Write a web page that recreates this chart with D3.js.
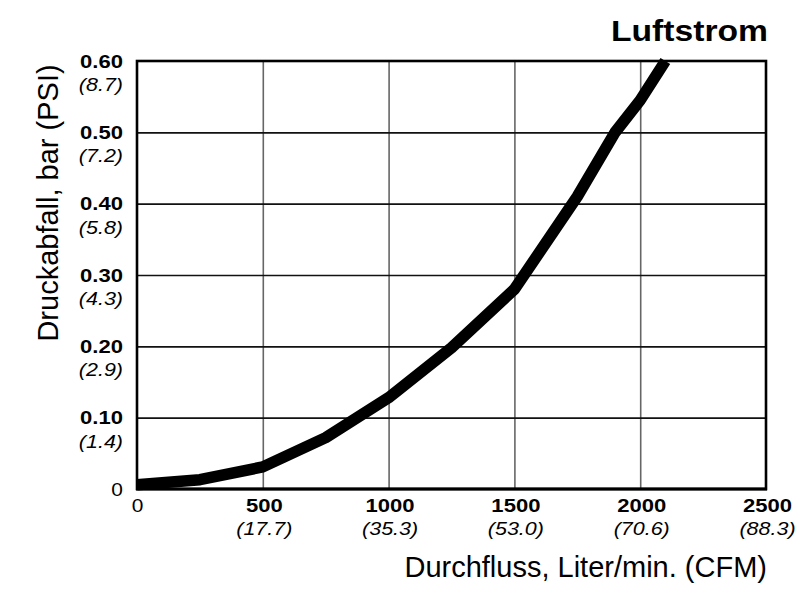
<!DOCTYPE html>
<html><head><meta charset="utf-8">
<script src="https://cdn.jsdelivr.net/npm/d3@7"></script>
<style>body{margin:0;background:#fff}svg{display:block}</style>
</head><body>
<svg id="c" width="800" height="597"></svg>
<script>
// ---- data ----
const flowLpm = [0, 250, 500, 750, 1000, 1250, 1500, 1750, 1900, 2000, 2100];
const dropBar = [0.006, 0.013, 0.031, 0.072, 0.128, 0.198, 0.28, 0.41, 0.5, 0.545, 0.6];
const xTicks = [0, 500, 1000, 1500, 2000, 2500];
const xTickLabels = ["0", "500", "1000", "1500", "2000", "2500"];
const xTickCfm = ["", "(17.7)", "(35.3)", "(53.0)", "(70.6)", "(88.3)"];
const yTicks = [0, 0.1, 0.2, 0.3, 0.4, 0.5, 0.6];
const yTickLabels = ["0", "0.10", "0.20", "0.30", "0.40", "0.50", "0.60"];
const yTickPsi = ["", "(1.4)", "(2.9)", "(4.3)", "(5.8)", "(7.2)", "(8.7)"];
const title = "Luftstrom";
const xTitle = "Durchfluss, Liter/min. (CFM)";
const yTitle = "Druckabfall, bar (PSI)";

// ---- layout ----
const L = 137, R = 766, T = 61, B = 489;
const FONT = "'Liberation Sans', Arial, sans-serif";
const SX = 1.16;
const svg = d3.select("#c");
const x = d3.scaleLinear().domain([0, 2500]).range([L, R]);
const y = d3.scaleLinear().domain([0, 0.6]).range([B, T]);

// stretched text helper: anchor 'end' | 'middle' | 'start'
function txt(g, s, px, py, opts) {
  const t = g.append("text").attr("x", 0).attr("y", py)
    .attr("font-family", FONT).attr("font-size", opts.size)
    .attr("font-weight", opts.weight || "normal")
    .attr("font-style", opts.style || "normal")
    .attr("fill", "#000").text(s);
  const w = t.node().getComputedTextLength();
  const sx = opts.sx || 1;
  const tw = w * sx;
  let x0 = px;
  if (opts.anchor === "end") x0 = px - tw;
  else if (opts.anchor === "middle") x0 = px - tw / 2;
  t.attr("x", x0);
  if (sx !== 1) t.attr("textLength", tw).attr("lengthAdjust", "spacingAndGlyphs");
  return t;
}

// gridlines via axes
svg.append("g").attr("transform", `translate(0,${B})`)
  .call(d3.axisBottom(x).tickValues(xTicks.slice(1, -1)).tickSize(-(B - T)).tickFormat(""))
  .call(g => g.select(".domain").remove())
  .call(g => g.selectAll("line").attr("stroke", "#666").attr("stroke-width", 1.6));
svg.append("g").attr("transform", `translate(${L},0)`)
  .call(d3.axisLeft(y).tickValues(yTicks.slice(1, -1)).tickSize(-(R - L)).tickFormat(""))
  .call(g => g.select(".domain").remove())
  .call(g => g.selectAll("line").attr("stroke", "#111").attr("stroke-width", 1.6));

// frame
svg.append("rect").attr("x", L).attr("y", T).attr("width", R - L).attr("height", B - T)
  .attr("fill", "none").attr("stroke", "#000").attr("stroke-width", 2.6);
svg.append("line").attr("x1", L - 1).attr("x2", R + 1).attr("y1", B).attr("y2", B)
  .attr("stroke", "#000").attr("stroke-width", 3);

// curve
const pts = flowLpm.map((f, i) => [f, dropBar[i]]);
svg.append("path").datum(pts)
  .attr("d", d3.line().x(d => x(d[0])).y(d => y(d[1])).curve(d3.curveLinear))
  .attr("fill", "none").attr("stroke", "#000").attr("stroke-width", 11.5)
  .attr("stroke-linejoin", "round").attr("stroke-linecap", "butt");

// y tick labels
const gy = svg.append("g");
yTicks.forEach((v, i) => {
  const py = y(v);
  if (i === 0) {
    txt(gy, yTickLabels[i], 123, py + 6.5, { size: 18, sx: SX, anchor: "end" });
  } else {
    txt(gy, yTickLabels[i], 123, py + 6.5, { size: 19, weight: "bold", sx: SX, anchor: "end" });
    txt(gy, yTickPsi[i], 123, py + 30, { size: 18.5, style: "italic", sx: SX, anchor: "end" });
  }
});

// x tick labels
const gx = svg.append("g");
xTicks.forEach((v, i) => {
  const px = x(v) + (i === 0 ? 0.5 : 1.5);
  if (i === 0) {
    txt(gx, xTickLabels[i], px, 511.5, { size: 18, sx: SX, anchor: "middle" });
  } else {
    txt(gx, xTickLabels[i], px, 511.5, { size: 19, weight: "bold", sx: SX, anchor: "middle" });
    txt(gx, xTickCfm[i], px, 535, { size: 18.5, style: "italic", sx: SX, anchor: "middle" });
  }
});

// titles
txt(svg, title, 768, 41, { size: 29, weight: "bold", sx: SX, anchor: "end" });
txt(svg, xTitle, 767, 577, { size: 29, anchor: "end" });
svg.append("text")
  .attr("transform", "translate(58,203) rotate(-90)")
  .attr("text-anchor", "middle").attr("font-family", FONT).attr("font-size", 29)
  .attr("fill", "#000").text(yTitle);
</script>
</body></html>
